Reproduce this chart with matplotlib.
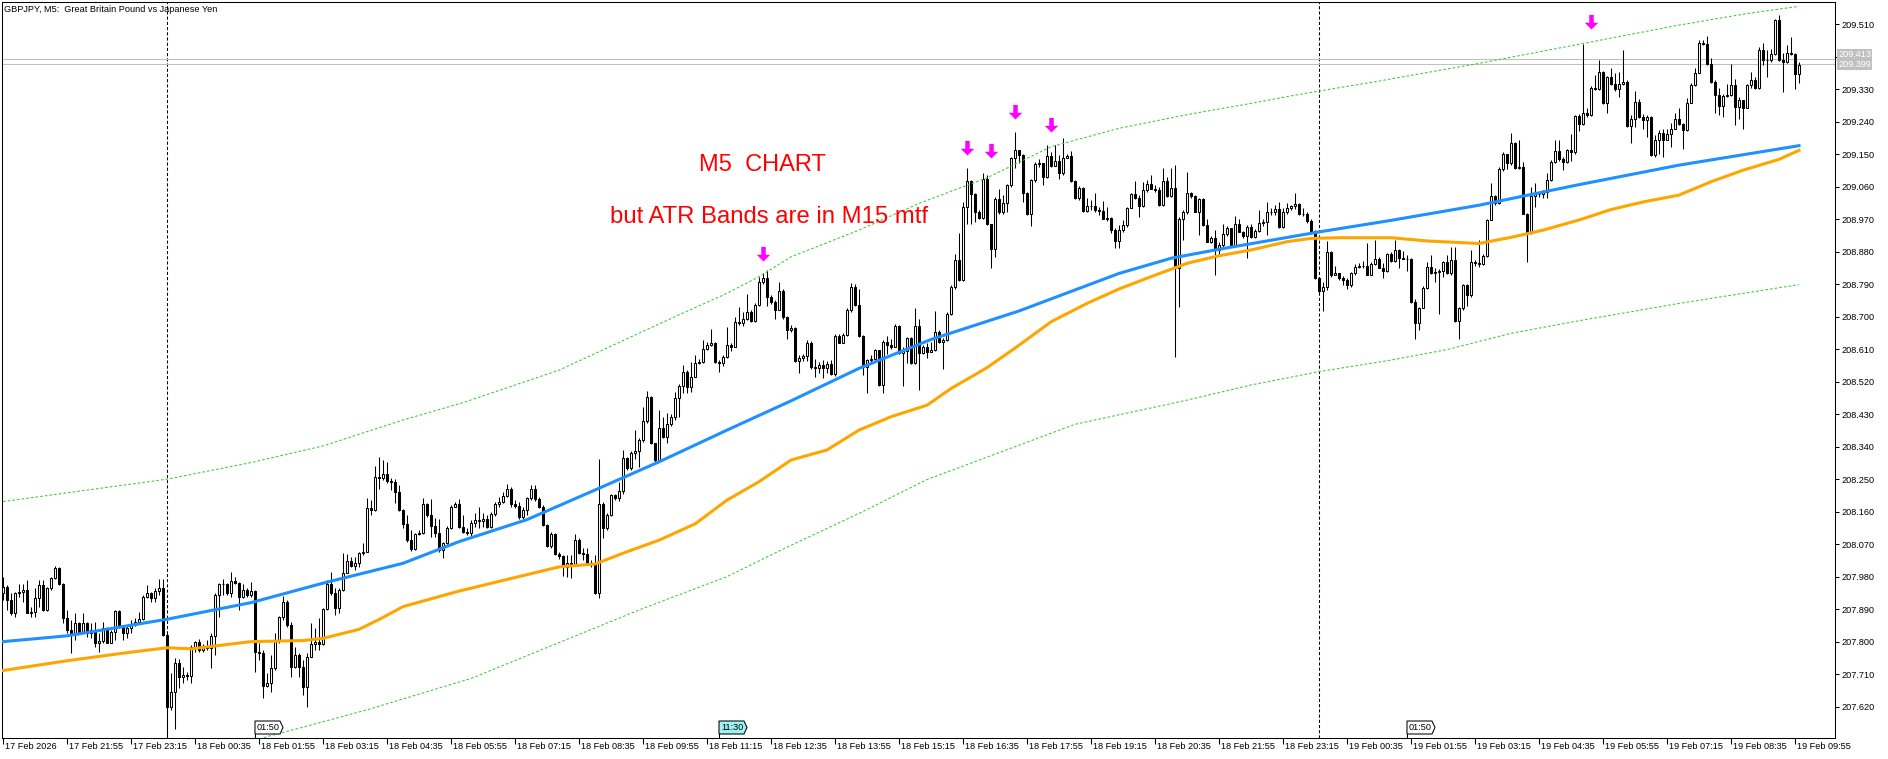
import matplotlib
matplotlib.use('Agg')
import matplotlib.pyplot as plt
import matplotlib.transforms as mtransforms
from matplotlib.patches import Polygon
from matplotlib.lines import Line2D
import numpy as np

# GBPJPY M5 candles, 17 Feb 20:35 -> 19 Feb 10:00 (one bar every 5 minutes)
first_open = 207.934
closes = [
    207.952, 207.915, 207.878, 207.934, 207.938, 207.943, 207.880, 207.883, 207.920, 207.957,
    207.888, 207.948, 207.975, 208.003, 207.961, 207.865, 207.832, 207.823, 207.851, 207.828,
    207.851, 207.823, 207.832, 207.795, 207.803, 207.837, 207.797, 207.828, 207.886, 207.841,
    207.823, 207.837, 207.846, 207.855, 207.863, 207.925, 207.934, 207.920, 207.941, 207.948,
    207.818, 207.618, 207.661, 207.740, 207.703, 207.708, 207.705, 207.786, 207.798, 207.777,
    207.786, 207.783, 207.816, 207.929, 207.961, 207.960, 207.934, 207.969, 207.963, 207.923,
    207.943, 207.929, 207.941, 207.772, 207.768, 207.677, 207.685, 207.726, 207.805, 207.869,
    207.911, 207.846, 207.731, 207.763, 207.731, 207.675, 207.758, 207.793, 207.800, 207.793,
    207.889, 207.961, 207.934, 207.892, 207.943, 207.991, 208.023, 208.010, 208.017, 208.045,
    208.049, 208.169, 208.165, 208.257, 208.252, 208.264, 208.245, 208.243, 208.215, 208.165,
    208.126, 208.082, 208.056, 208.098, 208.102, 208.181, 208.151, 208.119, 208.102, 208.054,
    208.072, 208.114, 208.174, 208.181, 208.117, 208.104, 208.100, 208.129, 208.137, 208.135,
    208.139, 208.118, 208.153, 208.181, 208.187, 208.203, 208.222, 208.181, 208.175, 208.144,
    208.166, 208.197, 208.224, 208.194, 208.174, 208.123, 208.065, 208.098, 208.042, 208.037,
    208.007, 208.017, 208.015, 208.081, 208.046, 208.044, 208.018, 208.015, 207.935, 208.181,
    208.114, 208.150, 208.206, 208.197, 208.218, 208.310, 208.280, 208.323, 208.329, 208.358,
    208.412, 208.478, 208.349, 208.303, 208.393, 208.366, 208.403, 208.421, 208.474, 208.508,
    208.548, 208.506, 208.534, 208.572, 208.575, 208.612, 208.623, 208.628, 208.575, 208.571,
    208.589, 208.623, 208.617, 208.686, 208.683, 208.693, 208.712, 208.689, 208.732, 208.795,
    208.806, 208.755, 208.741, 208.718, 208.772, 208.698, 208.663, 208.670, 208.578, 208.587,
    208.591, 208.626, 208.560, 208.557, 208.566, 208.557, 208.568, 208.541, 208.646, 208.628,
    208.649, 208.720, 208.783, 208.732, 208.646, 208.561, 208.580, 208.584, 208.608, 208.511,
    208.631, 208.621, 208.617, 208.674, 208.600, 208.606, 208.640, 208.571, 208.674, 208.600,
    208.615, 208.603, 208.608, 208.657, 208.631, 208.635, 208.709, 208.783, 208.857, 208.802,
    209.005, 209.076, 209.039, 208.991, 208.974, 209.083, 208.956, 208.887, 209.026, 208.991,
    209.014, 209.065, 209.139, 209.162, 209.148, 209.044, 208.986, 209.079, 209.122, 209.125,
    209.088, 209.145, 209.118, 209.131, 209.097, 209.140, 209.146, 209.076, 209.028, 209.057,
    208.993, 209.007, 209.007, 208.995, 208.993, 208.972, 208.974, 208.940, 208.910, 208.940,
    208.954, 209.002, 209.039, 209.030, 209.007, 209.051, 209.067, 209.055, 209.051, 209.009,
    209.076, 209.035, 209.057, 208.834, 208.970, 208.989, 209.044, 209.035, 208.991, 209.026,
    208.954, 208.908, 208.919, 208.885, 208.899, 208.928, 208.947, 208.899, 208.958, 208.935,
    208.924, 208.949, 208.922, 208.937, 208.961, 208.963, 208.989, 208.991, 208.998, 208.949,
    208.989, 209.002, 209.007, 209.011, 208.986, 208.986, 208.965, 208.937, 208.806, 208.771,
    208.783, 208.880, 208.815, 208.820, 208.808, 208.802, 208.789, 208.820, 208.838, 208.841,
    208.841, 208.817, 208.845, 208.860, 208.836, 208.826, 208.873, 208.855, 208.886, 208.864,
    208.861, 208.859, 208.741, 208.683, 208.723, 208.781, 208.838, 208.822, 208.824, 208.827,
    208.852, 208.820, 208.857, 208.689, 208.723, 208.788, 208.760, 208.852, 208.848, 208.846,
    208.868, 208.968, 209.034, 209.014, 209.108, 209.150, 209.125, 209.180, 209.111, 209.115,
    208.986, 208.932, 209.034, 209.041, 209.040, 209.046, 209.078, 209.129, 209.160, 209.136,
    209.129, 209.161, 209.157, 209.256, 209.233, 209.265, 209.258, 209.335, 209.330, 209.378,
    209.293, 209.363, 209.346, 209.330, 209.344, 209.351, 209.228, 209.249, 209.295, 209.254,
    209.245, 209.254, 209.148, 209.189, 209.208, 209.189, 209.206, 209.221, 209.249, 209.233,
    209.217, 209.293, 209.342, 209.376, 209.459, 209.457, 209.400, 209.351, 209.314, 209.283,
    209.311, 209.314, 209.342, 209.280, 209.300, 209.277, 209.342, 209.357, 209.335, 209.439,
    209.411, 209.411, 209.427, 209.523, 209.411, 209.406, 209.431, 209.427, 209.372, 209.397,
]
highs = [
    207.980, 207.957, 207.934, 207.938, 207.961, 207.961, 207.971, 207.897, 207.948, 207.971,
    207.971, 207.952, 207.980, 208.010, 208.008, 207.963, 207.888, 207.860, 207.878, 207.855,
    207.878, 207.855, 207.851, 207.855, 207.823, 207.853, 207.841, 207.832, 207.888, 207.888,
    207.846, 207.846, 207.860, 207.865, 207.883, 207.929, 207.957, 207.938, 207.948, 207.973,
    207.973, 207.828, 207.712, 207.754, 207.751, 207.731, 207.717, 207.791, 207.803, 207.806,
    207.793, 207.805, 207.823, 207.934, 207.963, 207.973, 207.963, 207.994, 207.980, 207.966,
    207.961, 207.948, 207.966, 207.943, 207.797, 207.777, 207.712, 207.763, 207.823, 207.871,
    207.926, 207.915, 207.853, 207.786, 207.768, 207.749, 207.768, 207.851, 207.837, 207.865,
    207.892, 207.971, 207.994, 207.948, 207.948, 208.045, 208.043, 208.035, 208.035, 208.047,
    208.074, 208.197, 208.192, 208.287, 208.311, 208.303, 208.299, 208.252, 208.250, 208.234,
    208.167, 208.151, 208.109, 208.100, 208.109, 208.197, 208.183, 208.194, 208.142, 208.139,
    208.077, 208.119, 208.179, 208.188, 208.194, 208.150, 208.114, 208.137, 208.155, 208.172,
    208.155, 208.150, 208.160, 208.187, 208.201, 208.215, 208.238, 208.227, 208.192, 208.187,
    208.174, 208.201, 208.234, 208.234, 208.201, 208.178, 208.127, 208.104, 208.100, 208.049,
    208.040, 208.040, 208.040, 208.098, 208.086, 208.058, 208.058, 208.026, 208.040, 208.307,
    208.187, 208.155, 208.210, 208.210, 208.243, 208.331, 208.312, 208.329, 208.386, 208.363,
    208.449, 208.495, 208.480, 208.351, 208.441, 208.423, 208.434, 208.430, 208.492, 208.513,
    208.566, 208.552, 208.575, 208.594, 208.584, 208.635, 208.631, 208.665, 208.631, 208.580,
    208.594, 208.672, 208.626, 208.698, 208.726, 208.714, 208.762, 208.718, 208.737, 208.809,
    208.820, 208.829, 208.760, 208.746, 208.797, 208.778, 208.702, 208.677, 208.672, 208.594,
    208.598, 208.635, 208.633, 208.584, 208.575, 208.580, 208.578, 208.580, 208.652, 208.652,
    208.654, 208.723, 208.794, 208.792, 208.778, 208.649, 208.584, 208.594, 208.612, 208.609,
    208.635, 208.646, 208.637, 208.681, 208.677, 208.615, 208.645, 208.643, 208.723, 208.695,
    208.621, 208.626, 208.631, 208.716, 208.663, 208.642, 208.714, 208.788, 208.875, 208.931,
    209.019, 209.113, 209.079, 209.042, 208.995, 209.097, 209.092, 208.958, 209.032, 209.054,
    209.037, 209.069, 209.143, 209.211, 209.162, 209.150, 209.046, 209.083, 209.129, 209.137,
    209.125, 209.175, 209.157, 209.177, 209.148, 209.194, 209.150, 209.159, 209.079, 209.063,
    209.060, 209.028, 209.023, 209.042, 209.005, 209.020, 209.005, 208.977, 208.945, 208.954,
    208.968, 209.005, 209.042, 209.076, 209.037, 209.074, 209.079, 209.094, 209.065, 209.060,
    209.113, 209.088, 209.113, 209.120, 208.977, 208.995, 209.100, 209.046, 209.037, 209.030,
    209.030, 208.972, 208.924, 208.940, 208.908, 208.958, 208.952, 208.947, 208.980, 208.971,
    208.937, 208.954, 208.956, 208.943, 208.995, 208.971, 209.017, 209.000, 209.009, 209.017,
    209.000, 209.014, 209.009, 209.042, 209.014, 209.000, 208.991, 208.971, 208.940, 208.811,
    208.797, 208.910, 208.882, 208.841, 208.820, 208.813, 208.808, 208.825, 208.845, 208.848,
    208.854, 208.903, 208.852, 208.912, 208.866, 208.848, 208.877, 208.880, 208.914, 208.889,
    208.883, 208.871, 208.864, 208.748, 208.728, 208.785, 208.852, 208.871, 208.834, 208.831,
    208.855, 208.871, 208.892, 208.892, 208.728, 208.792, 208.792, 208.884, 208.857, 208.914,
    208.875, 208.972, 209.071, 209.037, 209.115, 209.157, 209.152, 209.208, 209.185, 209.189,
    209.129, 208.988, 209.060, 209.071, 209.046, 209.051, 209.097, 209.134, 209.189, 209.189,
    209.143, 209.166, 209.206, 209.258, 209.263, 209.457, 209.277, 209.339, 209.369, 209.411,
    209.381, 209.366, 209.388, 209.374, 209.378, 209.440, 209.357, 209.258, 209.326, 209.302,
    209.263, 209.258, 209.256, 209.203, 209.217, 209.219, 209.221, 209.237, 209.265, 209.277,
    209.237, 209.307, 209.348, 209.388, 209.466, 209.468, 209.477, 209.418, 209.355, 209.335,
    209.317, 209.346, 209.400, 209.360, 209.309, 209.295, 209.346, 209.378, 209.365, 209.448,
    209.459, 209.440, 209.443, 209.526, 209.535, 209.431, 209.452, 209.474, 209.431, 209.406,
]
lows = [
    207.915, 207.888, 207.874, 207.869, 207.925, 207.911, 207.878, 207.867, 207.867, 207.897,
    207.886, 207.886, 207.943, 207.973, 207.957, 207.851, 207.823, 207.768, 207.805, 207.823,
    207.823, 207.814, 207.809, 207.786, 207.772, 207.797, 207.795, 207.795, 207.805, 207.837,
    207.805, 207.809, 207.823, 207.843, 207.849, 207.860, 207.920, 207.911, 207.911, 207.929,
    207.816, 207.537, 207.611, 207.557, 207.671, 207.685, 207.694, 207.685, 207.772, 207.770,
    207.772, 207.777, 207.726, 207.763, 207.869, 207.929, 207.929, 207.925, 207.960, 207.888,
    207.920, 207.925, 207.925, 207.717, 207.749, 207.643, 207.675, 207.661, 207.721, 207.795,
    207.860, 207.841, 207.703, 207.726, 207.703, 207.652, 207.618, 207.757, 207.777, 207.777,
    207.791, 207.888, 207.929, 207.874, 207.878, 207.941, 207.989, 208.008, 207.999, 208.008,
    208.040, 208.047, 208.151, 208.163, 208.222, 208.248, 208.239, 208.220, 208.185, 208.163,
    208.114, 208.077, 208.052, 208.054, 208.095, 208.098, 208.146, 208.091, 208.089, 208.049,
    208.031, 208.071, 208.111, 208.172, 208.114, 208.100, 208.095, 208.092, 208.118, 208.114,
    208.118, 208.114, 208.116, 208.148, 208.174, 208.183, 208.201, 208.174, 208.169, 208.141,
    208.139, 208.150, 208.192, 208.190, 208.169, 208.120, 208.063, 208.058, 208.040, 208.030,
    207.982, 207.980, 207.975, 208.012, 208.044, 208.026, 208.017, 208.007, 207.933, 207.920,
    208.086, 208.109, 208.148, 208.192, 208.190, 208.210, 208.275, 208.275, 208.307, 208.283,
    208.354, 208.406, 208.347, 208.296, 208.301, 208.363, 208.349, 208.397, 208.415, 208.423,
    208.489, 208.489, 208.492, 208.532, 208.569, 208.571, 208.609, 208.619, 208.572, 208.548,
    208.563, 208.587, 208.606, 208.619, 208.677, 208.674, 208.691, 208.686, 208.686, 208.729,
    208.790, 208.729, 208.735, 208.695, 208.718, 208.695, 208.637, 208.658, 208.575, 208.543,
    208.578, 208.578, 208.554, 208.534, 208.543, 208.529, 208.545, 208.538, 208.536, 208.626,
    208.626, 208.646, 208.714, 208.729, 208.645, 208.538, 208.488, 208.575, 208.580, 208.508,
    208.488, 208.598, 208.612, 208.617, 208.598, 208.508, 208.571, 208.569, 208.569, 208.497,
    208.598, 208.585, 208.603, 208.605, 208.626, 208.555, 208.633, 208.705, 208.778, 208.799,
    208.799, 208.958, 208.958, 208.963, 208.971, 208.972, 208.954, 208.834, 208.866, 208.986,
    208.986, 208.991, 209.060, 209.111, 209.125, 209.017, 208.982, 208.952, 209.072, 209.115,
    209.065, 209.085, 209.115, 209.120, 209.083, 209.094, 209.139, 209.072, 209.026, 209.023,
    208.991, 208.989, 208.995, 208.991, 208.982, 208.971, 208.965, 208.931, 208.891, 208.891,
    208.935, 208.949, 209.000, 209.026, 208.977, 209.005, 209.046, 209.054, 209.046, 209.007,
    209.007, 209.032, 209.032, 208.589, 208.728, 208.912, 208.986, 209.028, 208.989, 208.926,
    208.952, 208.906, 208.903, 208.815, 208.875, 208.894, 208.924, 208.897, 208.897, 208.934,
    208.917, 208.862, 208.917, 208.919, 208.935, 208.952, 208.926, 208.983, 208.983, 208.947,
    208.947, 208.986, 208.995, 208.998, 208.983, 208.980, 208.961, 208.934, 208.804, 208.767,
    208.716, 208.774, 208.811, 208.815, 208.802, 208.788, 208.777, 208.783, 208.815, 208.834,
    208.836, 208.815, 208.815, 208.843, 208.834, 208.806, 208.824, 208.852, 208.852, 208.834,
    208.859, 208.827, 208.739, 208.637, 208.663, 208.723, 208.778, 208.818, 208.797, 208.709,
    208.811, 208.818, 208.815, 208.686, 208.637, 208.720, 208.729, 208.755, 208.840, 208.838,
    208.843, 208.866, 208.968, 209.009, 209.012, 209.104, 209.108, 209.120, 209.108, 209.108,
    208.984, 208.852, 208.929, 209.005, 209.032, 209.030, 209.028, 209.077, 209.126, 209.132,
    209.106, 209.126, 209.132, 209.152, 209.215, 209.231, 209.254, 209.256, 209.328, 209.328,
    209.289, 209.265, 209.342, 209.326, 209.309, 209.342, 209.226, 209.182, 209.226, 209.252,
    209.221, 209.198, 209.145, 209.143, 209.152, 209.143, 209.189, 209.171, 209.219, 209.231,
    209.166, 209.215, 209.293, 209.339, 209.376, 209.452, 209.397, 209.348, 209.265, 209.258,
    209.254, 209.309, 209.311, 209.231, 209.249, 209.221, 209.277, 209.335, 209.332, 209.332,
    209.397, 209.365, 209.406, 209.425, 209.409, 209.323, 209.403, 209.425, 209.330, 209.348,
]

# indicator lines, read at a few bars
ma_fast_bars = [0, 16, 41, 62, 80, 100, 114, 131, 148, 164, 181, 197, 214, 232,
                254, 279, 292, 304, 329, 347, 369, 394, 419, 449]
ma_fast = [207.800, 207.816, 207.862, 207.908, 207.962, 208.017, 208.077, 208.138,
           208.220, 208.298, 208.386, 208.467, 208.557, 208.637, 208.716, 208.820,
           208.862, 208.887, 208.935, 208.967, 209.009, 209.066, 209.120, 209.174]

ma_slow_bars = [0, 16, 30, 41, 47, 62, 75, 80, 89, 95, 100, 114, 139, 148, 156, 164,
                173, 181, 189, 197, 206, 214, 222, 231, 237, 246, 254, 262, 271, 279,
                287, 296, 304, 312, 321, 327, 334, 347, 356, 369, 377, 385, 394, 402,
                410, 419, 427, 435, 444, 449]
ma_slow = [207.720, 207.747, 207.768, 207.783, 207.780, 207.800, 207.803, 207.809,
           207.834, 207.867, 207.897, 207.940, 208.007, 208.015, 208.049, 208.081,
           208.126, 208.192, 208.243, 208.303, 208.331, 208.386, 208.423, 208.455,
           208.501, 208.559, 208.621, 208.686, 208.737, 208.777, 208.811, 208.848,
           208.869, 208.885, 208.908, 208.917, 208.919, 208.919, 208.910, 208.903,
           208.920, 208.940, 208.968, 208.997, 209.018, 209.037, 209.074, 209.106,
           209.136, 209.161]

band_up_bars = [0, 41, 62, 80, 100, 115, 139, 164, 181, 189, 197, 214, 229, 246,
                262, 279, 296, 312, 323, 344, 369, 394, 419, 436, 449]
band_up = [208.188, 208.250, 208.296, 208.342, 208.414, 208.462, 208.552, 208.680,
           208.765, 208.811, 208.866, 208.940, 209.014, 209.085, 209.171, 209.222,
           209.260, 209.291, 209.314, 209.353, 209.402, 209.455, 209.508, 209.540,
           209.560]

band_dn_bars = [63, 66, 74, 91, 117, 160, 181, 197, 214, 231, 268, 296, 312, 329,
                347, 361, 377, 394, 419, 449]
band_dn = [207.525, 207.537, 207.560, 207.611, 207.698, 207.892, 207.980, 208.067,
           208.155, 208.249, 208.402, 208.469, 208.511, 208.548, 208.580, 208.609,
           208.654, 208.689, 208.737, 208.789]

signal_bars = [190, 241, 247, 253, 262, 397]
signal_tips = [208.855, 209.148, 209.140, 209.248, 209.212, 209.496]

day_start_bars = [41, 329]
mark_bars = [63, 179, 351]
mark_text = ['01:50', '11:30', '01:50']
mark_fill = ['white', '#a0f2f2', 'white']

bid = 209.399
ask = 209.413

price_ticks = [207.620, 207.710, 207.800, 207.890, 207.980, 208.070, 208.160, 208.250,
               208.340, 208.430, 208.520, 208.610, 208.700, 208.790, 208.880, 208.970,
               209.060, 209.150, 209.240, 209.330, 209.420, 209.510]
hidden_tick = 209.420   # covered by the bid/ask labels
time_labels = ['17 Feb 2026', '17 Feb 21:55', '17 Feb 23:15', '18 Feb 00:35', '18 Feb 01:55',
               '18 Feb 03:15', '18 Feb 04:35', '18 Feb 05:55', '18 Feb 07:15', '18 Feb 08:35',
               '18 Feb 09:55', '18 Feb 11:15', '18 Feb 12:35', '18 Feb 13:55', '18 Feb 15:15',
               '18 Feb 16:35', '18 Feb 17:55', '18 Feb 19:15', '18 Feb 20:35', '18 Feb 21:55',
               '18 Feb 23:15', '19 Feb 00:35', '19 Feb 01:55', '19 Feb 03:15', '19 Feb 04:35',
               '19 Feb 05:55', '19 Feb 07:15', '19 Feb 08:35', '19 Feb 09:55']
bars_per_label = 16

plt.rcParams['font.family'] = ['Liberation Sans', 'DejaVu Sans']
W, H = 1888, 759
small = 6.6

fig = plt.figure(figsize=(W / 100, H / 100), dpi=100)
fig.patch.set_facecolor('white')
ax = fig.add_axes([2 / W, 21 / H, 1833 / W, 736 / H])
ax.set_facecolor('white')
ax.set_xlim(-0.25, 458)
ax.set_ylim(207.533, 209.572)

opens = [first_open] + closes[:-1]
o = np.array(opens)
c = np.array(closes)
hi = np.maximum(np.array(highs), np.maximum(o, c))
lo = np.minimum(np.array(lows), np.minimum(o, c))
x = np.arange(len(c))
bull = c >= o

# candles
ax.vlines(x, lo, hi, colors='black', linewidth=0.75, zorder=2)
ax.bar(x, c - o, bottom=o, width=0.5,
       color=np.where(bull, 'white', 'black'), edgecolor='black',
       linewidth=0.75, zorder=3)

# day separators
for b in day_start_bars:
    ax.axvline(b, color='black', linewidth=0.75, linestyle=(0, (3, 2)), zorder=1)

# bid / ask
ax.axhline(ask, color='#c0c0c0', linewidth=0.75, zorder=1)
ax.axhline(bid, color='#c0c0c0', linewidth=0.75, zorder=1)

# indicators
ax.plot(band_up_bars, band_up, color='#32cd32', linewidth=0.75,
        linestyle=(0, (2.5, 2)), zorder=4)
ax.plot(band_dn_bars, band_dn, color='#32cd32', linewidth=0.75,
        linestyle=(0, (2.5, 2)), zorder=4)
ax.plot(ma_slow_bars, ma_slow, color='#ffa500', linewidth=2.2, zorder=5)
ax.plot(ma_fast_bars, ma_fast, color='#1e90ff', linewidth=2.2, zorder=5)

# signal arrows, tip at origin
arrow = [(0, 0), (6, 6), (2, 6), (2, 13), (-2, 13), (-2, 6), (-6, 6), (0, 0)]
ax.plot(signal_bars, signal_tips, linestyle='none', marker=arrow, markersize=21,
        color='#ff00ff', markeredgewidth=0, zorder=6)

# axes frame and price scale
for s in ax.spines.values():
    s.set_linewidth(0.75)
    s.set_color('black')
ax.yaxis.tick_right()
ax.set_yticks(price_ticks)
ax.set_yticklabels(['' if p == hidden_tick else '%.3f' % p for p in price_ticks])
ax.tick_params(axis='y', direction='out', length=3, width=0.75, pad=1.5,
               labelsize=small, colors='black')

tick_bars = [i * bars_per_label for i in range(len(time_labels))]
ax.set_xticks(tick_bars)
ax.set_xticklabels([])
ax.tick_params(axis='x', direction='out', length=4, width=0.75)
below = mtransforms.blended_transform_factory(ax.transData, ax.transAxes)
for b, lab in zip(tick_bars, time_labels):
    ax.text(b + 0.4, -4 / 736, lab, transform=below, ha='left', va='top',
            fontsize=small, clip_on=False)

# bid / ask labels on the price scale, ask nudged up so both stay readable
right = mtransforms.blended_transform_factory(ax.transAxes, ax.transData)
for val, dy in ((ask, 5), (bid, 0)):
    ax.annotate('%.3f' % val, xy=(1, val), xycoords=right,
                xytext=(3, dy), textcoords='offset pixels',
                ha='left', va='center', fontsize=small, color='white',
                annotation_clip=False, zorder=7,
                bbox=dict(boxstyle='square,pad=0.12', fc='#c0c0c0', ec='none'))

# time marks sitting on the time scale
ybase = H - 738
for b, txt, fill in zip(mark_bars, mark_text, mark_fill):
    px = ax.transData.transform((b, 208.0))[0]
    pts = [(px, ybase + 4), (px, ybase + 17), (px + 25, ybase + 17),
           (px + 28, ybase + 10.5), (px + 25, ybase + 4)]
    fig.add_artist(Polygon(pts, closed=True, facecolor=fill, edgecolor='black',
                           linewidth=0.75, transform=None, zorder=8))
    fig.add_artist(Line2D([px, px], [ybase, ybase + 4], color='black',
                          linewidth=0.75, transform=None, zorder=8))
    fig.text((px + 2) / W, (ybase + 10.5) / H, txt, ha='left', va='center',
             fontsize=small, zorder=9)

# header and notes
fig.text(4 / W, 1 - 10 / H, 'GBPJPY, M5:  Great Britain Pound vs Japanese Yen',
         ha='left', va='center', fontsize=small)
fig.text(762 / W, 1 - 171 / H, 'M5  CHART', ha='center', va='baseline',
         color='red', fontsize=17)
fig.text(610 / W, 1 - 223 / H, 'but ATR Bands are in M15 mtf', ha='left',
         va='baseline', color='red', fontsize=17.2)

fig.savefig('out.png', dpi=100)
